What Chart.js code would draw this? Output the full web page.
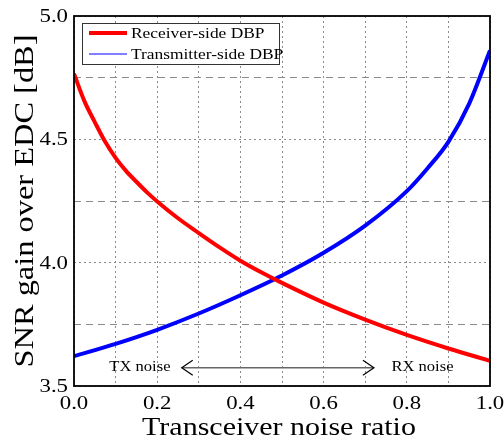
<!DOCTYPE html>
<html><head><meta charset="utf-8">
<script src="https://cdn.jsdelivr.net/npm/chart.js@4/dist/chart.umd.min.js"></script>
<style>html,body{margin:0;padding:0;background:#fff}#wrap{width:504px;height:440px}</style>
</head><body><div id="wrap"><canvas id="c" width="504" height="440"></canvas></div>
<script>
const receiverX = [0, 0.025, 0.05, 0.075, 0.1, 0.125, 0.15, 0.175, 0.2, 0.25, 0.3, 0.35, 0.4, 0.45, 0.5, 0.6, 0.7, 0.8, 0.9, 1.0];
const receiverSide = [4.766, 4.655, 4.57, 4.49, 4.425, 4.372, 4.328, 4.286, 4.248, 4.180, 4.120, 4.062, 4.008, 3.961, 3.918, 3.838, 3.769, 3.707, 3.652, 3.602];
const transmitterX = [0, 0.1, 0.2, 0.3, 0.4, 0.5, 0.6, 0.7, 0.8, 0.85, 0.9, 0.95, 1.0];
const transmitterSide = [3.621, 3.671, 3.728, 3.794, 3.868, 3.948, 4.040, 4.150, 4.290, 4.383, 4.49, 4.645, 4.86];
const seriesNames = ['Receiver-side DBP', 'Transmitter-side DBP'];
const xTickLabels = ['0.0', '0.2', '0.4', '0.6', '0.8', '1.0'];
const yTickLabels = ['3.5', '4.0', '4.5', '5.0'];
const xTitle = 'Transceiver noise ratio';
const yTitle = 'SNR gain over EDC [dB]';
const annotation = {left: 'TX noise', right: 'RX noise', y: 3.574, arrowFrom: 0.259, arrowTo: 0.721, leftTextEnd: 0.232, rightTextStart: 0.763};

const serif = '"Liberation Serif", "Times New Roman", serif';
const SX = 1.2; // horizontal glyph stretch of the reference typeface

function txt(ctx, s, x, y, size, align, baseline, rot) {
  ctx.save();
  ctx.translate(x, y);
  if (rot) ctx.rotate(rot);
  ctx.scale(SX, 1);
  ctx.font = size + 'px ' + serif;
  ctx.textAlign = align; ctx.textBaseline = baseline; ctx.fillStyle = '#000';
  ctx.fillText(s, 0, 0);
  ctx.restore();
}

const framePlugin = {
  id: 'frame',
  afterDraw(chart) {
    const {ctx, chartArea: a, scales} = chart;
    const xs = scales.x, ys = scales.y;
    ctx.save();
    // frame
    ctx.strokeStyle = '#000'; ctx.lineWidth = 1.8;
    ctx.strokeRect(a.left, a.top, a.right - a.left, a.bottom - a.top);
    // tick labels
    xTickLabels.forEach((t) => txt(ctx, t, xs.getPixelForValue(parseFloat(t)), a.bottom + 18, 19, 'center', 'middle'));
    yTickLabels.forEach((t) => txt(ctx, t, a.left - 6, ys.getPixelForValue(parseFloat(t)) + 1, 19, 'right', 'middle'));
    // axis titles
    txt(ctx, xTitle, (a.left + a.right) / 2 - 3, 435, 25, 'center', 'alphabetic');
    txt(ctx, yTitle, 33, (a.top + a.bottom) / 2, 27, 'center', 'alphabetic', -Math.PI / 2);
    // legend
    const lx = a.left + 8, ly = a.top + 7, lw = 197, lh = 41;
    ctx.fillStyle = '#fff'; ctx.fillRect(lx, ly, lw, lh);
    ctx.strokeStyle = '#333'; ctx.lineWidth = 1;
    ctx.strokeRect(lx + 0.5, ly + 0.5, lw, lh);
    chart.data.datasets.forEach((ds, i) => {
      const yy = ly + 10 + i * 21;
      ctx.strokeStyle = ds.borderColor; ctx.lineWidth = i === 0 ? 4 : 1.2;
      ctx.beginPath(); ctx.moveTo(lx + 7, yy); ctx.lineTo(lx + 45, yy); ctx.stroke();
      txt(ctx, ds.label, lx + 49, yy + 1, 14.5, 'left', 'middle');
    });
    // annotation arrow
    const ay = ys.getPixelForValue(annotation.y);
    const x1 = xs.getPixelForValue(annotation.arrowFrom), x2 = xs.getPixelForValue(annotation.arrowTo);
    ctx.strokeStyle = '#666'; ctx.lineWidth = 1.4;
    ctx.beginPath(); ctx.moveTo(x1, ay); ctx.lineTo(x2, ay); ctx.stroke();
    ctx.strokeStyle = '#000'; ctx.lineWidth = 1.2;
    ctx.beginPath(); ctx.moveTo(x1 + 11, ay - 7.5); ctx.lineTo(x1, ay); ctx.lineTo(x1 + 11, ay + 7.5); ctx.stroke();
    ctx.beginPath(); ctx.moveTo(x2 - 11, ay - 7.5); ctx.lineTo(x2, ay); ctx.lineTo(x2 - 11, ay + 7.5); ctx.stroke();
    txt(ctx, annotation.left, xs.getPixelForValue(annotation.leftTextEnd), ay, 13.8, 'right', 'middle');
    txt(ctx, annotation.right, xs.getPixelForValue(annotation.rightTextStart), ay, 13.8, 'left', 'middle');
    ctx.restore();
  }
};

const mk = (xv, yv) => xv.map((x, i) => ({x, y: yv[i]}));

new Chart(document.getElementById('c'), {
  type: 'line',
  data: {
    datasets: [
      {label: seriesNames[0], data: mk(receiverX, receiverSide), borderColor: '#ff0000', borderWidth: 4, pointRadius: 0, cubicInterpolationMode: 'monotone', fill: false},
      {label: seriesNames[1], data: mk(transmitterX, transmitterSide), borderColor: '#0000ff', borderWidth: 4, pointRadius: 0, cubicInterpolationMode: 'monotone', fill: false}
    ]
  },
  options: {
    responsive: false, animation: false, devicePixelRatio: 1,
    layout: {padding: {top: 16, right: 14, left: 0, bottom: 0}},
    plugins: {legend: {display: false}, tooltip: {enabled: false}},
    scales: {
      x: {
        type: 'linear', min: 0, max: 1,
        afterFit(s) { s.height = 54; },
        ticks: {stepSize: 0.1, autoSkip: false, maxRotation: 0, color: 'rgba(0,0,0,0)', font: {size: 10}},
        grid: {color: '#8a8a8a', lineWidth: 1, drawTicks: false},
        border: {display: false, dash: [2, 3]}
      },
      y: {
        type: 'linear', min: 3.5, max: 5.0,
        afterFit(s) { s.width = 74; },
        ticks: {stepSize: 0.25, autoSkip: false, color: 'rgba(0,0,0,0)', font: {size: 10}},
        grid: {color: '#8a8a8a', lineWidth: 1, drawTicks: false},
        border: {display: false, dash: (ctx) => { const v = ctx.tick ? ctx.tick.value : 0; const i = Math.round((v - 3.5) * 4); return i % 2 === 0 ? [2, 3] : [7, 5]; }}
      }
    }
  },
  plugins: [framePlugin]
});
</script></body></html>
